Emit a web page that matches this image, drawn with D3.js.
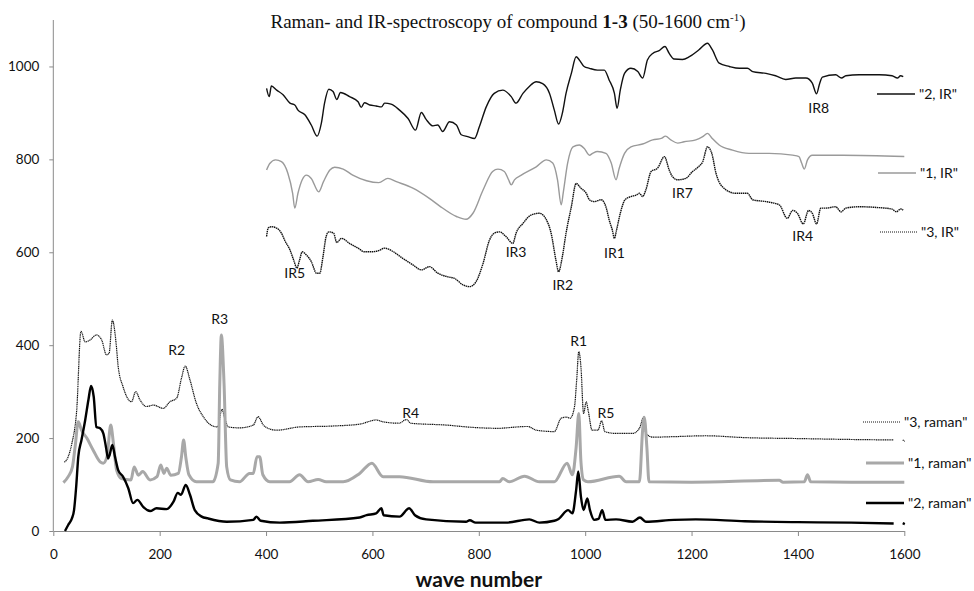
<!DOCTYPE html>
<html>
<head>
<meta charset="utf-8">
<script src="https://cdn.jsdelivr.net/npm/d3@7"></script>
<style>
  body { margin: 0; background: #fff; }
  svg text { font-family: Lato, "Open Sans", sans-serif; }
</style>
</head>
<body>
<div id="chart"></div>
<script>
// values: [wave number, intensity]
const raman3 = [[21,148],[28,160],[35,189],[44,260],[52,430],[60,407],[69,411],[81,422],[91,411],[100,379],[105,383],[111,454],[118,405],[122,354],[131,311],[147,278],[155,300],[163,282],[175,268],[188,271],[207,264],[219,278],[232,286],[241,329],[248,355],[257,325],[269,275],[282,246],[300,226],[309,224],[317,262],[323,240],[329,224],[350,222],[376,228],[385,246],[395,228],[404,221],[420,217],[463,224],[526,226],[576,230],[607,239],[620,235],[650,232],[664,240],[672,232],[739,228],[789,223],[839,221],[851,222],[892,225],[908,217],[942,214],[955,243],[964,245],[972,243],[980,268],[984,325],[988,386],[992,354],[997,253],[1002,278],[1006,257],[1013,217],[1024,217],[1031,237],[1037,214],[1058,210],[1089,210],[1102,221],[1110,245],[1114,210],[1127,202],[1164,203],[1227,205],[1300,201],[1400,199],[1500,197],[1580,196],[1590,null],[1597,196],[1601,193]]

const raman1 = [[19,104],[28,117],[36,138],[41,181],[47,235],[53,217],[63,200],[75,174],[88,149],[94,146],[101,160],[108,228],[113,189],[119,131],[128,113],[146,110],[152,138],[160,120],[168,128],[182,110],[195,117],[202,142],[208,124],[213,135],[221,120],[235,124],[241,160],[245,196],[249,160],[255,121],[269,106],[300,106],[310,146],[313,318],[316,422],[321,318],[326,138],[333,110],[350,106],[369,124],[376,124],[383,160],[388,160],[394,121],[407,106],[444,106],[463,121],[479,106],[498,111],[513,106],[545,106],[576,124],[599,146],[620,117],[651,117],[714,106],[839,106],[845,113],[857,106],[886,118],[914,106],[942,106],[966,146],[976,121],[983,180],[988,253],[992,150],[997,110],[1005,106],[1064,118],[1077,106],[1102,106],[1108,217],[1111,245],[1116,180],[1120,106],[1200,105],[1365,109],[1372,105],[1412,106],[1418,121],[1424,106],[1500,105],[1600,105]]

const raman2 = [[22,0],[28,13],[35,27],[39,45],[43,95],[47,160],[53,196],[60,239],[66,282],[71,312],[76,289],[81,224],[88,221],[94,210],[99,181],[103,156],[106,164],[111,185],[116,160],[122,131],[131,117],[141,92],[150,60],[158,67],[169,52],[182,43],[194,49],[213,47],[226,63],[234,82],[240,78],[249,99],[257,78],[266,45],[279,31],[291,27],[326,20],[376,24],[382,31],[390,22],[426,18],[488,22],[576,29],[589,34],[607,38],[617,49],[621,34],[651,31],[669,49],[680,34],[701,25],[776,20],[783,23],[794,18],[851,18],[895,25],[914,18],[942,22],[950,26],[968,45],[976,38],[983,88],[987,128],[992,74],[997,45],[1004,70],[1009,45],[1017,24],[1025,26],[1032,45],[1038,24],[1058,25],[1089,20],[1103,29],[1114,20],[1167,24],[1208,25],[1300,21],[1400,19],[1500,18],[1580,16],[1590,null],[1597,17],[1601,15]]

const ir2 = [[401,953],[406,935],[410,958],[420,949],[432,939],[445,921],[454,917],[460,906],[473,896],[485,874],[496,850],[504,878],[510,921],[518,951],[526,946],[533,929],[540,944],[557,935],[573,924],[579,912],[585,922],[595,917],[607,915],[617,913],[623,921],[635,919],[651,906],[667,888],[681,863],[692,901],[701,886],[714,872],[723,874],[732,860],[745,881],[758,874],[767,853],[779,849],[792,845],[801,870],[814,913],[829,942],[845,949],[861,935],[870,921],[883,942],[895,957],[908,967],[920,963],[933,942],[942,906],[950,876],[957,899],[964,942],[974,985],[983,1021],[989,1014],[998,1000],[1008,996],[1023,992],[1036,992],[1045,971],[1055,942],[1060,910],[1066,949],[1074,985],[1086,996],[1099,989],[1108,975],[1117,1014],[1127,1028],[1139,1034],[1150,1043],[1158,1028],[1167,1016],[1183,1015],[1196,1021],[1214,1036],[1230,1050],[1239,1036],[1252,1007],[1271,1000],[1290,996],[1305,996],[1315,989],[1340,985],[1358,980],[1377,972],[1396,975],[1415,975],[1427,964],[1435,941],[1441,964],[1446,977],[1471,982],[1482,975],[1490,980],[1515,982],[1553,982],[1577,980],[1587,975],[1593,980],[1598,978]]

const ir1 = [[401,777],[407,791],[418,799],[429,795],[441,770],[450,727],[454,695],[460,727],[468,756],[476,766],[485,759],[499,730],[508,752],[520,777],[529,783],[545,779],[563,766],[589,754],[612,750],[629,759],[645,752],[676,738],[707,716],[726,700],[758,677],[776,671],[789,684],[808,734],[826,774],[836,779],[848,774],[856,756],[861,745],[867,756],[880,766],[908,784],[927,799],[939,792],[948,756],[955,702],[959,730],[967,792],[977,827],[989,831],[998,824],[1008,809],[1014,813],[1023,817],[1039,813],[1049,792],[1058,756],[1064,781],[1074,813],[1086,827],[1108,833],[1127,842],[1143,845],[1151,850],[1161,842],[1174,835],[1186,838],[1208,842],[1221,849],[1230,856],[1239,845],[1252,831],[1277,820],[1308,813],[1346,813],[1390,809],[1402,806],[1407,792],[1412,779],[1418,799],[1427,809],[1484,809],[1600,806]]

const ir3 = [[401,634],[404,652],[410,655],[420,652],[429,641],[435,626],[445,605],[452,583],[458,566],[463,583],[468,601],[476,594],[485,580],[495,555],[501,555],[507,590],[513,634],[518,644],[527,641],[533,621],[542,630],[557,619],[573,609],[585,601],[598,601],[613,604],[623,609],[638,602],[657,587],[676,573],[692,562],[707,569],[723,555],[742,547],[754,544],[770,530],[783,526],[795,537],[808,576],[820,626],[829,641],[839,644],[851,634],[864,619],[870,641],[883,662],[898,680],[914,684],[927,670],[936,641],[945,583],[950,558],[957,590],[964,641],[974,698],[983,748],[992,738],[1002,727],[1008,713],[1017,709],[1030,713],[1039,698],[1045,670],[1051,648],[1055,630],[1059,648],[1066,684],[1075,713],[1086,720],[1096,723],[1102,727],[1108,720],[1114,734],[1124,774],[1136,781],[1149,806],[1158,777],[1164,763],[1174,756],[1189,759],[1202,774],[1213,784],[1221,795],[1230,827],[1238,813],[1246,770],[1258,741],[1283,727],[1305,727],[1315,713],[1340,709],[1365,702],[1380,673],[1390,690],[1399,684],[1410,661],[1420,690],[1427,684],[1435,661],[1443,695],[1452,695],[1471,698],[1481,687],[1490,695],[1515,698],[1553,696],[1577,693],[1585,687],[1593,693],[1598,691]]

const xTicks = [0, 200, 400, 600, 800, 1000, 1200, 1400, 1600]
const yTicks = [0, 200, 400, 600, 800, 1000]

// peak labels: [text, wave number, intensity at text centre]
const peakLabels = [["R3",313,456],["R2",232,390],["R4",672,254],["R1",988,408],["R5",1039,253],
  ["IR5",454,555],["IR3",870,601],["IR2",958,530],["IR1",1055,598],["IR7",1183,727],["IR4",1409,634],["IR8",1439,910]]

const width = 974
const height = 591

const svg = d3.select("#chart").append("svg")
    .attr("width", width).attr("height", height)

const x = d3.scaleLinear().domain([0, 1600]).range([53.3, 904.3])
const y = d3.scaleLinear().domain([0, 1100]).range([531, 20])

const axisColor = "#8a8a8a"
const fmt = d3.format("d")

// y axis
const gy = svg.append("g").attr("transform", `translate(${x(0)},0)`)
    .call(d3.axisLeft(y).tickValues(yTicks).tickFormat(fmt).tickSize(4).tickSizeOuter(0).tickPadding(10))
gy.select(".domain").attr("stroke", axisColor).attr("d", `M0,${y(0)}V${y(1100)}`)
gy.selectAll(".tick line").attr("stroke", axisColor)
gy.selectAll(".tick text").attr("font-size", 13.5).attr("fill", "#111")
    .style("font-family", "Lato, sans-serif")

// x axis
const gx = svg.append("g").attr("transform", `translate(0,${y(0)})`)
    .call(d3.axisBottom(x).tickValues(xTicks).tickFormat(fmt).tickSize(5).tickSizeOuter(0).tickPadding(13))
gx.select(".domain").attr("stroke", axisColor)
gx.selectAll(".tick line").attr("stroke", axisColor)
gx.selectAll(".tick text").attr("font-size", 13.5).attr("fill", "#111")
    .style("font-family", "Lato, sans-serif")

const line = d3.line()
    .defined(d => d[1] != null)
    .x(d => x(d[0])).y(d => y(d[1]))
    .curve(d3.curveMonotoneX)

// series styles
const series = [
  { data: ir1, stroke: "#9a9a9a", width: 1.4, dash: null },
  { data: ir2, stroke: "#111", width: 1.4, dash: null },
  { data: ir3, stroke: "#111", width: 1.4, dash: "1.5,0.6" },
  { data: raman3, stroke: "#111", width: 1.2, dash: "1.2,0.6" },
  { data: raman1, stroke: "#a8a8a8", width: 3, dash: null },
  { data: raman2, stroke: "#000", width: 2.4, dash: null }
]

series.forEach(s => {
  svg.append("path")
    .datum(s.data)
    .attr("fill", "none")
    .attr("stroke", s.stroke)
    .attr("stroke-width", s.width)
    .attr("stroke-dasharray", s.dash)
    .attr("stroke-linejoin", "round")
    .attr("d", line)
})

// peak labels
svg.selectAll(".peak").data(peakLabels).enter().append("text")
    .attr("class", "peak")
    .attr("x", d => x(d[1])).attr("y", d => y(d[2]))
    .attr("dy", "0.35em")
    .attr("text-anchor", "middle")
    .attr("font-size", 14)
    .attr("fill", "#111")
    .text(d => d[0])

// legend
const legendItems = [
  { name: '"2, IR"', stroke: "#111", width: 1.6, dash: null, x0: 877, x1: 915, yy: 94 },
  { name: '"1, IR"', stroke: "#9a9a9a", width: 1.4, dash: null, x0: 878, x1: 916, yy: 173 },
  { name: '"3, IR"', stroke: "#111", width: 1, dash: "1,1", x0: 880, x1: 917, yy: 232 },
  { name: '"3, raman"', stroke: "#111", width: 1, dash: "1,1", x0: 863, x1: 900, yy: 422 },
  { name: '"1, raman"', stroke: "#a8a8a8", width: 3, dash: null, x0: 866, x1: 904, yy: 463 },
  { name: '"2, raman"', stroke: "#000", width: 2.4, dash: null, x0: 866, x1: 904, yy: 503 }
]

const legend = svg.append("g").attr("class", "legend")
legendItems.forEach(d => {
  legend.append("line")
    .attr("x1", d.x0).attr("x2", d.x1).attr("y1", d.yy).attr("y2", d.yy)
    .attr("stroke", d.stroke).attr("stroke-width", d.width)
    .attr("stroke-dasharray", d.dash)
  legend.append("text")
    .attr("x", d.x1 + 4).attr("y", d.yy).attr("dy", "0.35em")
    .attr("font-size", 14).attr("fill", "#111")
    .text(d.name)
})

// title
const title = svg.append("text")
    .attr("x", 508).attr("y", 28)
    .attr("text-anchor", "middle")
    .style("font-family", "'Liberation Serif', 'Times New Roman', serif")
    .attr("font-size", 19)
    .attr("fill", "#111")
title.append("tspan").text("Raman- and IR-spectroscopy of compound ")
title.append("tspan").attr("font-weight", "bold").text("1-3")
title.append("tspan").text(" (50-1600 cm")
title.append("tspan").attr("font-size", 11).attr("dy", -7).text("-1")
title.append("tspan").attr("dy", 7).text(")")

// x axis title
svg.append("text")
    .attr("x", (x(0) + x(1600)) / 2).attr("y", 587)
    .attr("text-anchor", "middle")
    .attr("font-size", 21).attr("font-weight", "bold")
    .attr("fill", "#111")
    .text("wave number")
</script>
</body>
</html>
